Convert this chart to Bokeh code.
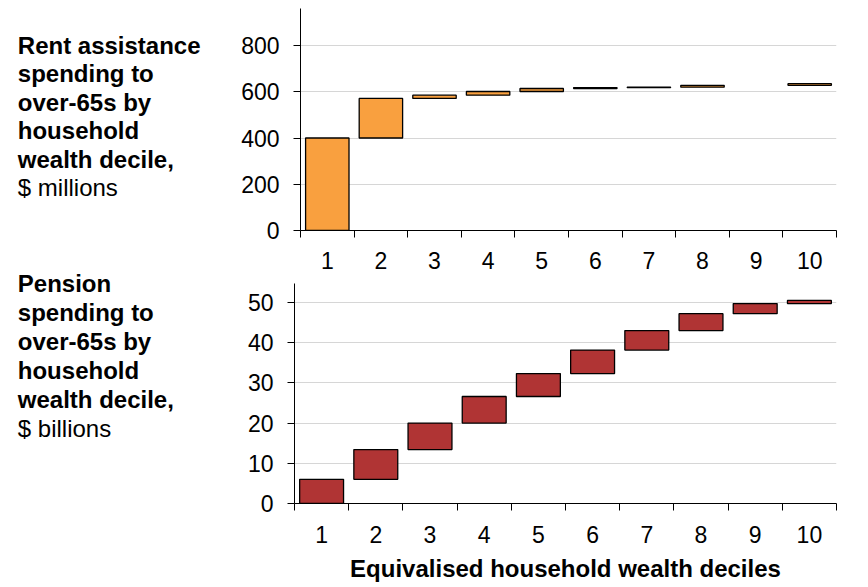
import numpy as np
from bokeh.plotting import figure
from bokeh.models import FixedTicker, ColumnDataSource
from bokeh.core.properties import value
from bokeh.layouts import column, row
from bokeh.embed import file_html
from bokeh.resources import INLINE

# ---- data ----
deciles = [1, 2, 3, 4, 5, 6, 7, 8, 9, 10]
rent_increments = [400, 171, 14, 16, 13, 4, 2, 8, 0, 7]          # $ millions
pension_increments = [6.0, 7.4, 6.6, 6.6, 5.7, 5.85, 4.85, 4.2, 2.5, 0.8]  # $ billions
rent_ticks = [0, 200, 400, 600, 800]
pension_ticks = [0, 10, 20, 30, 40, 50]

rent_title_bold = ["Rent assistance", "spending to", "over-65s by", "household", "wealth decile,"]
rent_title_unit = "$ millions"
pension_title_bold = ["Pension", "spending to", "over-65s by", "household", "wealth decile,"]
pension_title_unit = "$ billions"
x_title = "Equivalised household wealth deciles"

FONT = "Liberation Sans"
ORANGE = "#F9A03F"
RED = "#B03434"
GRID = "#D6D6D6"
TEXT_W = 220


def waterfall(increments):
    inc = np.array(increments, dtype=float)
    top = np.cumsum(inc)
    bottom = top - inc
    keep = inc > 0
    return ColumnDataSource(dict(x=np.array(deciles)[keep], bottom=bottom[keep], top=top[keep]))


def make_fig(increments, yticks, ymax, color, frame_w, frame_h, left, right, top_b, bottom_b, std):
    p = figure(frame_width=frame_w, frame_height=frame_h,
               min_border_left=left, min_border_right=right,
               min_border_top=top_b, min_border_bottom=bottom_b,
               x_range=(0.5, 10.5), y_range=(0, ymax),
               output_backend="svg", toolbar_location=None, title=None)
    p.vbar(x="x", bottom="bottom", top="top", width=0.81, source=waterfall(increments),
           fill_color=color, line_color="black", line_width=1.3)
    p.outline_line_color = None
    p.xgrid.visible = False
    p.ygrid.ticker = FixedTicker(ticks=yticks)
    p.ygrid.grid_line_color = GRID
    p.ygrid.grid_line_width = 1

    xa = p.xaxis[0]
    xa.ticker = FixedTicker(ticks=deciles, minor_ticks=[d - 0.5 for d in deciles] + [deciles[-1] + 0.5])
    xa.major_tick_line_color = None
    xa.major_tick_out = 7
    xa.major_tick_in = 0
    xa.minor_tick_line_color = "black"
    xa.minor_tick_out = 7
    xa.minor_tick_in = 0
    xa.axis_line_color = "black"
    xa.major_label_text_font = FONT
    xa.major_label_text_font_size = "23px"
    xa.major_label_text_color = "black"
    xa.major_label_standoff = std

    ya = p.yaxis[0]
    ya.ticker = FixedTicker(ticks=yticks)
    ya.major_tick_out = 7
    ya.major_tick_in = 0
    ya.minor_tick_line_color = None
    ya.axis_line_color = "black"
    ya.major_tick_line_color = "black"
    ya.major_label_text_font = FONT
    ya.major_label_text_font_size = "23px"
    ya.major_label_text_color = "black"
    ya.major_label_standoff = 14
    return p


H1 = 8 + 222 + 48
p1 = make_fig(rent_increments, rent_ticks, 960, ORANGE, 536, 222, 300 - TEXT_W, 24, 8, 48, 14)
H2 = 5 + 220 + 84
p2 = make_fig(pension_increments, pension_ticks, 54.7, RED, 542, 220, 294 - TEXT_W, 24, 5, 84, 15)

p2.xaxis[0].axis_label = x_title
p2.xaxis[0].axis_label_text_font = FONT
p2.xaxis[0].axis_label_text_font_size = "24px"
p2.xaxis[0].axis_label_text_font_style = "bold"
p2.xaxis[0].axis_label_text_color = "black"
p2.xaxis[0].axis_label_standoff = 9

HT = H1 + H2
t = figure(width=TEXT_W, height=HT, x_range=(0, TEXT_W), y_range=(0, HT),
           min_border=0, x_axis_location=None, y_axis_location=None,
           output_backend="svg", toolbar_location=None, title=None)
t.grid.visible = False
t.outline_line_color = None


def side_text(bold_lines, unit_line, first_baseline, step):
    n = len(bold_lines)
    ys = [HT - (first_baseline + i * step) for i in range(n + 1)]
    t.text(x=[17.3] * n, y=ys[:n], text=bold_lines, text_font=value(FONT),
           text_font_size="24px", text_font_style="bold", text_color="black",
           text_align="left", text_baseline="alphabetic")
    t.text(x=[17.3], y=[ys[n]], text=[unit_line], text_font=value(FONT),
           text_font_size="24px", text_font_style="normal", text_color="black",
           text_align="left", text_baseline="alphabetic")


side_text(rent_title_bold, rent_title_unit, 45.0, 28.4)
side_text(pension_title_bold, pension_title_unit, 282.5, 29.0)

layout = row(t, column(row(p1, spacing=0), row(p2, spacing=0), spacing=0), spacing=0)
open("out.html", "w").write(file_html(layout, INLINE))
